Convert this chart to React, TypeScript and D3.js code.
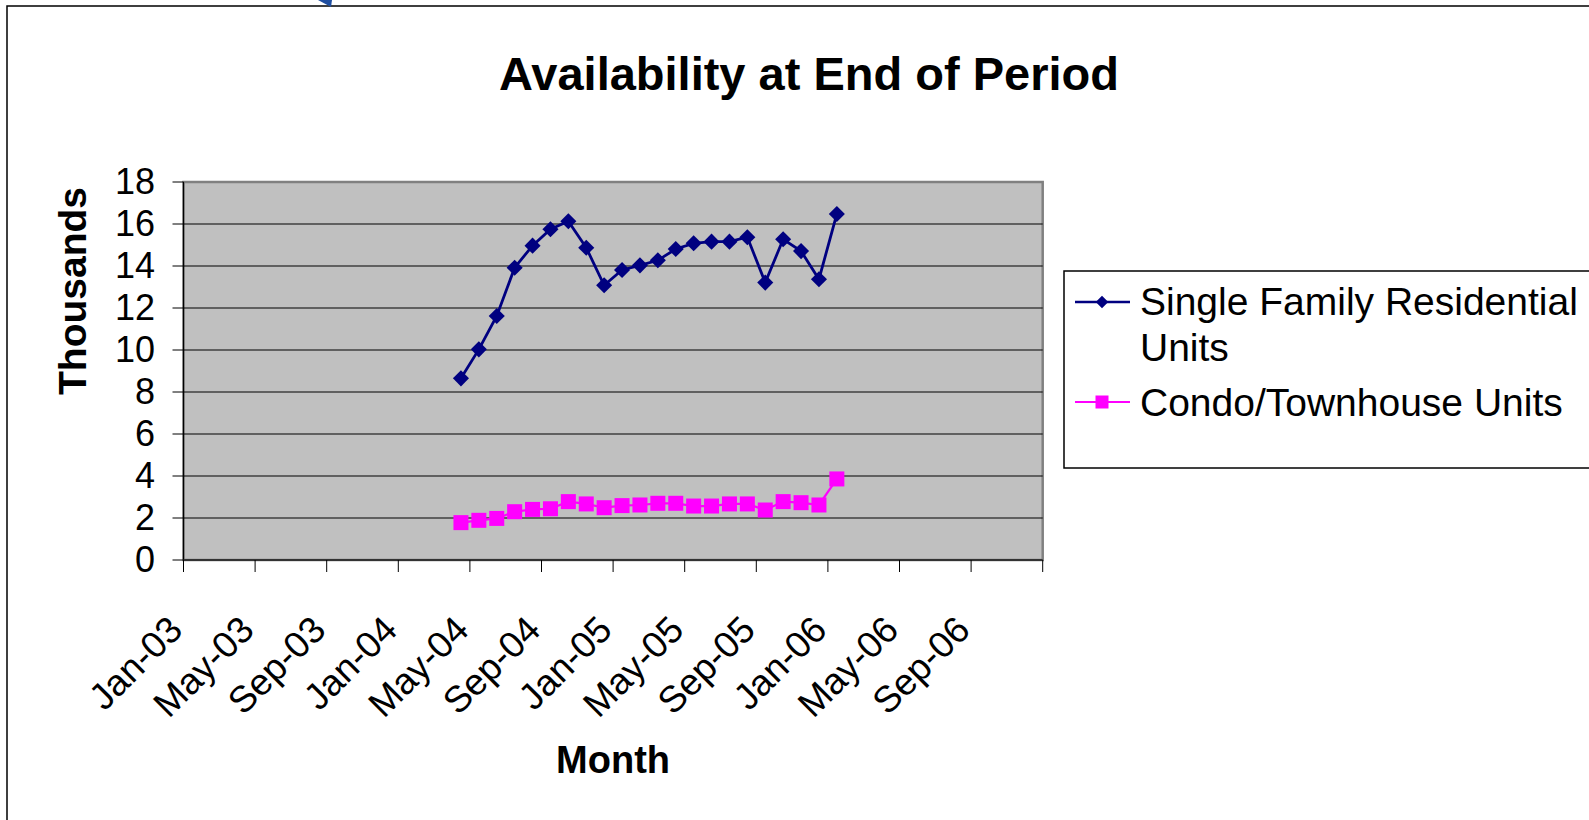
import { useEffect, useRef } from "react";
import * as d3 from "d3";

const months = [
  "Apr-04", "May-04", "Jun-04", "Jul-04", "Aug-04", "Sep-04", "Oct-04", "Nov-04",
  "Dec-04", "Jan-05", "Feb-05", "Mar-05", "Apr-05", "May-05", "Jun-05", "Jul-05",
  "Aug-05", "Sep-05", "Oct-05", "Nov-05", "Dec-05", "Jan-06",
];

const singleFamily = [
  8.65, 10.03, 11.62, 13.92, 14.97, 15.75, 16.13, 14.87, 13.08, 13.81, 14.03,
  14.27, 14.81, 15.08, 15.16, 15.16, 15.37, 13.21, 15.27, 14.71, 13.37, 16.48,
];

const condo = [
  1.78, 1.89, 1.98, 2.3, 2.41, 2.44, 2.78, 2.67, 2.49, 2.59, 2.62,
  2.7, 2.7, 2.57, 2.57, 2.67, 2.67, 2.38, 2.78, 2.73, 2.62, 3.86,
];

const tickLabels = [
  "Jan-03", "May-03", "Sep-03", "Jan-04", "May-04", "Sep-04",
  "Jan-05", "May-05", "Sep-05", "Jan-06", "May-06", "Sep-06",
];

const yTicks = [0, 2, 4, 6, 8, 10, 12, 14, 16, 18];

const legendLines = [["Single Family Residential", "Units"], ["Condo/Townhouse Units"]];

const W = 1589;
const H = 820;
const FONT = "'Liberation Sans', Arial, sans-serif";

const parse = d3.timeParse("%b-%y");
// months counted from Jan-03
const monthIdx = (s: string) => {
  const d = parse(s)!;
  return (d.getFullYear() - 2003) * 12 + d.getMonth();
};

export default function App() {
  const svgRef = useRef<SVGSVGElement | null>(null);

  useEffect(() => {
    if (!svgRef.current) return;
    const svg = d3.select(svgRef.current);
    svg.selectAll("*").remove();

    const left = 183.5, right = 1042.7, top = 182, bottom = 560;

    const x = d3.scaleLinear().domain([0, 48]).range([left, right]);
    const y = d3.scaleLinear().domain([0, 18]).range([bottom, top]);

    // outer frame
    svg.append("rect").attr("x", 7).attr("y", 6).attr("width", 1700).attr("height", 1000)
      .attr("fill", "#fff").attr("stroke", "#000").attr("stroke-width", 1.5);
    svg.append("path").attr("d", "M318,0 L332,0 L331,7 Z").attr("fill", "#1f4ea0");

    // title
    svg.append("text").attr("x", 809).attr("y", 90).attr("text-anchor", "middle")
      .attr("font-family", FONT).attr("font-weight", "bold").attr("font-size", 47)
      .text("Availability at End of Period");

    // plot area
    svg.append("rect").attr("x", left).attr("y", top)
      .attr("width", right - left).attr("height", bottom - top)
      .attr("fill", "#c0c0c0").attr("stroke", "#808080").attr("stroke-width", 2.5);

    // gridlines
    svg.append("g").selectAll("line").data(yTicks.filter((t) => t > 0 && t < 18)).enter()
      .append("line")
      .attr("x1", left).attr("x2", right)
      .attr("y1", (d) => y(d)).attr("y2", (d) => y(d))
      .attr("stroke", "#000").attr("stroke-width", 1);

    // axes
    svg.append("line").attr("x1", left).attr("x2", left).attr("y1", top).attr("y2", bottom)
      .attr("stroke", "#000").attr("stroke-width", 1.2);
    svg.append("line").attr("x1", left).attr("x2", right).attr("y1", bottom).attr("y2", bottom)
      .attr("stroke", "#333").attr("stroke-width", 2);

    const yAxis = svg.append("g");
    yAxis.selectAll("line").data(yTicks).enter().append("line")
      .attr("x1", left - 11).attr("x2", left)
      .attr("y1", (d) => y(d)).attr("y2", (d) => y(d))
      .attr("stroke", "#000");
    yAxis.selectAll("text").data(yTicks).enter().append("text")
      .attr("x", 155).attr("y", (d) => y(d) + 12)
      .attr("text-anchor", "end").attr("font-family", FONT).attr("font-size", 36)
      .text((d) => d);

    const xTickPos = d3.range(0, 49, 4);
    const xAxis = svg.append("g");
    xAxis.selectAll("line").data(xTickPos).enter().append("line")
      .attr("x1", (d) => x(d)).attr("x2", (d) => x(d))
      .attr("y1", bottom).attr("y2", bottom + 12)
      .attr("stroke", "#000");
    xAxis.selectAll("text").data(tickLabels).enter().append("text")
      .attr("transform", (d) => `translate(${x(monthIdx(d)) + 1},632) rotate(-45)`)
      .attr("text-anchor", "end").attr("font-family", FONT).attr("font-size", 37)
      .text((d) => d);

    // axis titles
    svg.append("text").attr("transform", "translate(86,291) rotate(-90)")
      .attr("text-anchor", "middle").attr("font-family", FONT).attr("font-weight", "bold")
      .attr("font-size", 39).text("Thousands");
    svg.append("text").attr("x", (left + right) / 2).attr("y", 773)
      .attr("text-anchor", "middle").attr("font-family", FONT).attr("font-weight", "bold")
      .attr("font-size", 38).text("Month");

    const px = (m: string) => x(monthIdx(m) + 0.5);

    // series
    const lineGen = d3.line<number>().x((_, i) => px(months[i])).y((d) => y(d));

    svg.append("path").datum(singleFamily).attr("d", lineGen)
      .attr("fill", "none").attr("stroke", "#000080").attr("stroke-width", 2.8);
    const diamond = d3.symbol().type(d3.symbolDiamond2).size(165);
    svg.append("g").selectAll("path").data(singleFamily).enter().append("path")
      .attr("d", diamond)
      .attr("transform", (d, i) => `translate(${px(months[i])},${y(d)})`)
      .attr("fill", "#000080");

    svg.append("path").datum(condo).attr("d", lineGen)
      .attr("fill", "none").attr("stroke", "#ff00ff").attr("stroke-width", 2.2);
    svg.append("g").selectAll("rect").data(condo).enter().append("rect")
      .attr("x", (_, i) => px(months[i]) - 7.5).attr("y", (d) => y(d) - 7.5)
      .attr("width", 15).attr("height", 15)
      .attr("fill", "#ff00ff");

    // legend
    const lg = svg.append("g");
    lg.append("rect").attr("x", 1064).attr("y", 271).attr("width", 600).attr("height", 197)
      .attr("fill", "#fff").attr("stroke", "#000").attr("stroke-width", 1.5);

    lg.append("line").attr("x1", 1075).attr("x2", 1130).attr("y1", 302).attr("y2", 302)
      .attr("stroke", "#000080").attr("stroke-width", 2.5);
    lg.append("path").attr("d", d3.symbol().type(d3.symbolDiamond2).size(100))
      .attr("transform", "translate(1102,302)").attr("fill", "#000080");
    legendLines[0].forEach((t, i) => {
      lg.append("text").attr("x", 1140).attr("y", 315 + i * 46)
        .attr("font-family", FONT).attr("font-size", 39).text(t);
    });

    lg.append("line").attr("x1", 1075).attr("x2", 1130).attr("y1", 402).attr("y2", 402)
      .attr("stroke", "#ff00ff").attr("stroke-width", 2);
    lg.append("rect").attr("x", 1095.5).attr("y", 395.5).attr("width", 13).attr("height", 13)
      .attr("fill", "#ff00ff");
    lg.append("text").attr("x", 1140).attr("y", 416)
      .attr("font-family", FONT).attr("font-size", 39).text(legendLines[1][0]);
  }, []);

  return (
    <svg
      ref={svgRef}
      width={W}
      height={H}
      style={{ position: "absolute", left: 0, top: 0, background: "#fff" }}
    ></svg>
  );
}
